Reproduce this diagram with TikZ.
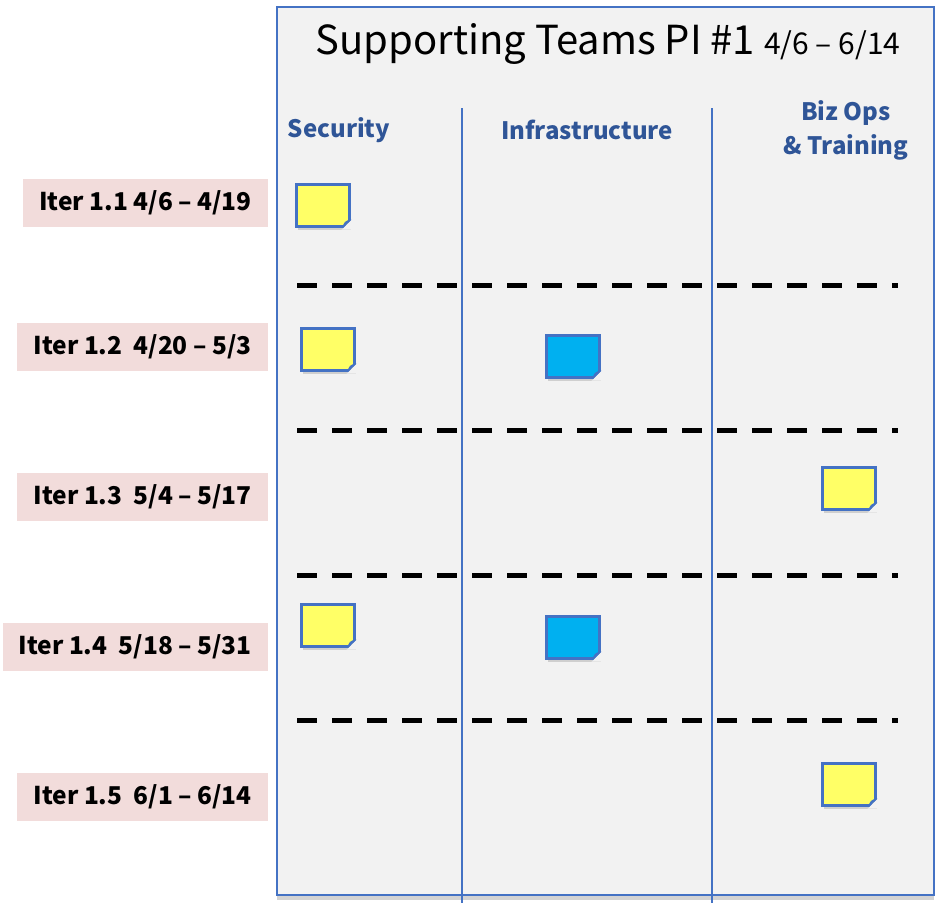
\documentclass[tikz,border=0pt]{standalone}
\usepackage{fontspec}
\setmainfont{Noto Sans CJK JP}
\usetikzlibrary{shadows, positioning}
\definecolor{frameblue}{RGB}{68,114,196}
\definecolor{headblue}{RGB}{47,85,151}
\definecolor{boardgray}{RGB}{242,242,242}
\definecolor{iterpink}{RGB}{242,220,219}
\definecolor{noteyellow}{RGB}{255,255,102}
\definecolor{notecyan}{RGB}{0,176,240}

% sticky note with folded corner: name, colour, top left corner
\newcommand{\sticky}[3]{%
  \node[note, fill=#2, anchor=north west] (#1) at (#3) {};
  \fill[boardgray] ([xshift=-9pt,yshift=-2pt]#1.south east) -- ([xshift=2pt,yshift=-2pt]#1.south east)
    -- ([xshift=2pt,yshift=9pt]#1.south east) -- cycle;
  \filldraw[frameblue, fill=#2!70!black, line width=1.5pt, line join=round]
    ([xshift=-8pt]#1.south east) -- ([yshift=8pt]#1.south east)
    -- ([xshift=-5pt,yshift=5pt]#1.south east) -- cycle;
}

\begin{document}
\begin{tikzpicture}[x=1pt,y=-1pt,
    note/.style={draw=frameblue, line width=2.5pt, minimum width=53pt, minimum height=42pt,
      inner sep=0pt, drop shadow={shadow xshift=2pt, shadow yshift=-4pt, opacity=.3}},
    iter/.style={fill=iterpink, anchor=east, inner xsep=16pt, minimum height=48pt,
      font=\fontsize{24.5}{26}\selectfont\bfseries},
    head/.style={text=headblue, font=\fontsize{24}{34}\selectfont\bfseries, align=center},
    sepline/.style={line width=5pt, dash pattern=on 20pt off 15pt}]
  \useasboundingbox (0,0) rectangle (942,908);
  % board
  \draw[frameblue, line width=2pt, fill=boardgray,
    drop shadow={shadow xshift=0pt, shadow yshift=-5pt, opacity=.35}] (277,7) rectangle (934,895);
  \draw[frameblue, line width=2pt] (462,108) -- (462,903);
  \draw[frameblue, line width=2pt] (712,108) -- (712,903);
  % title and columns
  \node (title) at (608,44) {\fontsize{40}{42}\selectfont Supporting Teams PI \#1\
    \fontsize{30}{32}\selectfont 4/6 -- 6/14};
  \node[head] (sec) at (339,130) {Security};
  \node[head] (infra) at (587,130) {Infrastructure};
  \node[head] (biz) at (846,130) {Biz Ops\\\& Training};
  % iterations
  \node[iter] (it1) at (268,203) {Iter 1.1 4/6 -- 4/19};
  \node[iter] (it2) at (268,347) {Iter 1.2\ \ 4/20 -- 5/3};
  \node[iter] (it3) at (268,497) {Iter 1.3\ \ 5/4 -- 5/17};
  \node[iter] (it4) at (268,647) {Iter 1.4\ \ 5/18 -- 5/31};
  \node[iter] (it5) at (268,797) {Iter 1.5\ \ 6/1 -- 6/14};
  \foreach \y in {285,430,575,720}
    \draw[sepline] (297,\y) -- (898,\y);
  % notes
  \sticky{s1}{noteyellow}{295,183}
  \sticky{s2}{noteyellow}{300,327}
  \sticky{s4}{noteyellow}{300,603}
  \sticky{b2}{notecyan}{545,334}
  \sticky{b4}{notecyan}{545,615}
  \sticky{z3}{noteyellow}{821,466}
  \sticky{z5}{noteyellow}{821,762}
\end{tikzpicture}
\end{document}
